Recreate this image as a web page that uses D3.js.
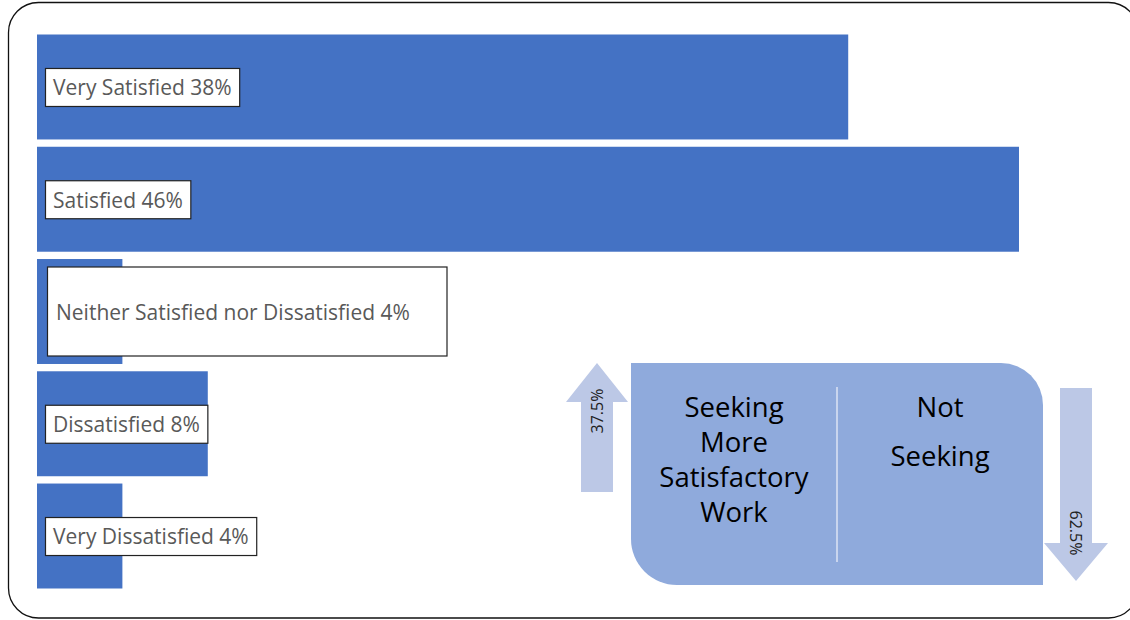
<!DOCTYPE html>
<html>
<head>
<meta charset="utf-8">
<script src="https://cdn.jsdelivr.net/npm/d3@7"></script>
<style>
  html, body { margin: 0; padding: 0; background: #fff; }
  svg { display: block; }
</style>
</head>
<body>
<svg id="chart" width="1130" height="620"></svg>
<script>
// ---- data ----
const categories = ["Very Satisfied", "Satisfied", "Neither Satisfied nor Dissatisfied", "Dissatisfied", "Very Dissatisfied"];
const values = [38, 46, 4, 8, 4];
const seekingLabels = ["Seeking More Satisfactory Work", "Not Seeking"];
const seekingValues = [37.5, 62.5];

// ---- layout ----
const W = 1130, H = 620;
const svg = d3.select("#chart");
const font = "'Open Sans', 'Noto Sans', sans-serif";

// frame
svg.append("rect")
  .attr("x", 8.5).attr("y", 2.5).attr("width", 1130).attr("height", 615.5)
  .attr("rx", 30).attr("ry", 30)
  .attr("fill", "#fff").attr("stroke", "#111").attr("stroke-width", 1.3);

const x = d3.scaleLinear().domain([0, 46]).range([37, 1019]);
const y = d3.scaleBand().domain(categories).range([34.5, 588.5]).paddingInner(0.065).paddingOuter(0);

svg.append("g").selectAll("rect")
  .data(categories)
  .join("rect")
  .attr("x", x(0))
  .attr("y", d => y(d))
  .attr("width", (d, i) => x(values[i]) - x(0))
  .attr("height", y.bandwidth())
  .attr("fill", "#4472C4");

// data labels
const labelFS = 21;
const lbl = svg.append("g").selectAll("g")
  .data(categories)
  .join("g");

lbl.each(function (d, i) {
  const g = d3.select(this);
  const cy = y(d) + y.bandwidth() / 2;
  const big = (i === 2);
  const bx = big ? 47.5 : 45.5;
  const rect = g.append("rect").attr("fill", "#fff").attr("stroke", "#222").attr("stroke-width", 1.2);
  const t = g.append("text")
    .attr("x", big ? 56 : 53)
    .attr("y", cy + 1)
    .attr("dy", "0.35em")
    .attr("font-family", font)
    .attr("font-size", labelFS)
    .attr("fill", "#595959")
    .text(`${d} ${values[i]}%`);
  const tw = t.node().getComputedTextLength();
  if (big) {
    rect.attr("x", bx).attr("y", cy - 44.5).attr("width", 399.5).attr("height", 89);
  } else {
    rect.attr("x", bx).attr("y", cy - 18.5).attr("width", (53 - bx) + tw + 8).attr("height", 38);
  }
});

// ---- seeking panel ----
const px0 = 631, px1 = 1043, py0 = 363, py1 = 585;
const r1 = 46, r2 = 42;
const panel = d3.path();
panel.moveTo(px0, py0);
panel.lineTo(px1 - r2, py0);
panel.arcTo(px1, py0, px1, py0 + r2, r2);
panel.lineTo(px1, py1);
panel.lineTo(px0 + r1, py1);
panel.arcTo(px0, py1, px0, py1 - r1, r1);
panel.closePath();
svg.append("path").attr("d", panel.toString()).attr("fill", "#8FAADC");

// divider
svg.append("line")
  .attr("x1", 837).attr("x2", 837).attr("y1", 387).attr("y2", 562)
  .attr("stroke", "#C9D5EE").attr("stroke-width", 2);

const bigFS = 27.5;
const leftLines = ["Seeking", "More", "Satisfactory", "Work"];
svg.append("text")
  .attr("text-anchor", "middle")
  .attr("font-family", font)
  .attr("font-size", bigFS)
  .attr("fill", "#000")
  .selectAll("tspan")
  .data(leftLines)
  .join("tspan")
  .attr("x", 734)
  .attr("y", (d, i) => 407 + i * 35)
  .attr("dy", "0.35em")
  .text(d => d);

const rightLines = ["Not", "Seeking"];
svg.append("text")
  .attr("text-anchor", "middle")
  .attr("font-family", font)
  .attr("font-size", bigFS)
  .attr("fill", "#000")
  .selectAll("tspan")
  .data(rightLines)
  .join("tspan")
  .attr("x", 940)
  .attr("y", (d, i) => 407 + i * 49)
  .attr("dy", "0.35em")
  .text(d => d);

// arrows
const arrowFill = "#BCC8E6";
function arrow(cx, shaftHalf, headHalf, tipY, headBaseY, endY) {
  const p = d3.path();
  p.moveTo(cx, tipY);
  p.lineTo(cx + headHalf, headBaseY);
  p.lineTo(cx + shaftHalf, headBaseY);
  p.lineTo(cx + shaftHalf, endY);
  p.lineTo(cx - shaftHalf, endY);
  p.lineTo(cx - shaftHalf, headBaseY);
  p.lineTo(cx - headHalf, headBaseY);
  p.closePath();
  return p.toString();
}
// up arrow (seeking)
svg.append("path").attr("d", arrow(597, 16, 31, 363, 402, 492)).attr("fill", arrowFill);
svg.append("text")
  .attr("transform", "translate(597,411) rotate(-90)")
  .attr("text-anchor", "middle").attr("dy", "0.35em")
  .attr("font-family", font).attr("font-size", 16).attr("fill", "#222")
  .text(`${seekingValues[0]}%`);
// down arrow (not seeking)
svg.append("path").attr("d", arrow(1076, 16, 32, 581, 543, 388)).attr("fill", arrowFill);
svg.append("text")
  .attr("transform", "translate(1076,533) rotate(90)")
  .attr("text-anchor", "middle").attr("dy", "0.35em")
  .attr("font-family", font).attr("font-size", 16).attr("fill", "#222")
  .text(`${seekingValues[1]}%`);
</script>
</body>
</html>
